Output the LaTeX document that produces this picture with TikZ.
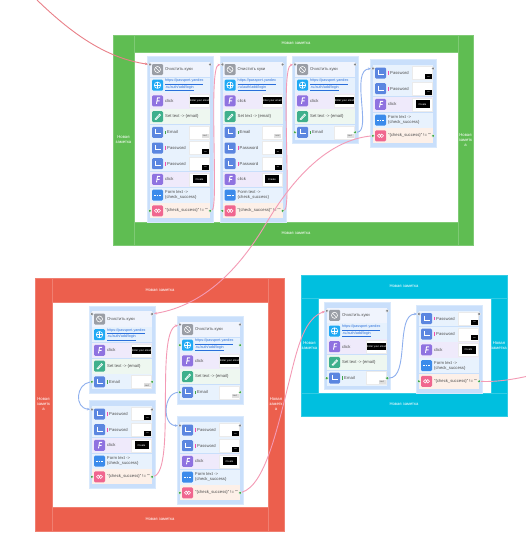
\documentclass[tikz,border=0pt]{standalone}
\usepackage{fontspec}
\setmainfont{Liberation Sans}
\usetikzlibrary{arrows.meta}
\definecolor{cgreen}{HTML}{5FBD52}
\definecolor{cred}{HTML}{EC5F4D}
\definecolor{ccyan}{HTML}{00BFDF}
\definecolor{colbg}{HTML}{C9DFFB}
\definecolor{bgclear}{HTML}{F0F4FD}
\definecolor{bglink}{HTML}{E6F1FD}
\definecolor{bgclick}{HTML}{EFEAFB}
\definecolor{bgset}{HTML}{EEF7F0}
\definecolor{bginput}{HTML}{E8F2FD}
\definecolor{bgcheck}{HTML}{FDF0E8}
\definecolor{icgray}{HTML}{9A9EA6}
\definecolor{icblue}{HTML}{1FA9F4}
\definecolor{icviolet}{HTML}{8F72E0}
\definecolor{icteal}{HTML}{3FB08C}
\definecolor{icinput}{HTML}{5B86E0}
\definecolor{icform}{HTML}{3B8BEB}
\definecolor{icpink}{HTML}{F0668F}
\definecolor{linkblue}{HTML}{2A6FDB}
\definecolor{portgray}{HTML}{7F848B}
\definecolor{portgreen}{HTML}{3FA548}
\definecolor{linkpink}{HTML}{F49AB5}
\definecolor{linkred}{HTML}{E98088}
\definecolor{linkbl}{HTML}{8FB0EE}
\tikzset{
  x=1pt,y=-1pt,
  notebox/.style={inner sep=0pt,text=white,font=\fontsize{4.2}{5}\selectfont,align=center},
  colbox/.style={fill=colbg,draw=colbg!70!white,line width=.4pt},
  rowbox/.style={minimum width=60pt,minimum height=15.2pt,inner sep=0pt,draw=none},
  iconbox/.style={minimum width=11pt,minimum height=11pt,inner sep=0pt,rounded corners=1.2pt,draw=none},
  rowtext/.style={inner sep=0pt,anchor=west,align=left,font=\fontsize{4.2}{5}\selectfont,text=black!70},
  linktext/.style={inner sep=0pt,anchor=west,align=left,font=\fontsize{3.7}{4.8}\selectfont,text=linkblue},
  thumb/.style={minimum width=20pt,minimum height=13pt,inner sep=0pt,fill=white,draw=black!8,line width=.3pt},
  port/.style={circle,minimum size=3.4pt,inner sep=0pt,draw=white,line width=.3pt},
  glyph/.style={draw=white,line width=.6pt},
  pinkline/.style={draw=linkpink,line width=.9pt,-{Stealth[length=3pt,width=2.6pt]}},
  blueline/.style={draw=linkbl,line width=.9pt,-{Stealth[length=3pt,width=2.6pt]}},
}
% note: name x1 y1 x2 y2 fill text
\newcommand\notepanel[7]{%
  \pgfmathsetmacro\nw{#4-#2}\pgfmathsetmacro\nh{#5-#3}%
  \pgfmathsetmacro\ncx{(#2+#4)/2}\pgfmathsetmacro\ncy{(#3+#5)/2}%
  \node[notebox,fill=#6,draw=#6!80!white,line width=.3pt,minimum width=\nw pt,minimum height=\nh pt] (#1) at (\ncx,\ncy) {#7};}
\newcommand\colpanel[4]{\pgfmathsetmacro\cw{#2+66.5}\draw[colbox] (#2,#3) rectangle (\cw,#4);}
\newcommand\base[5]{% name x y bg icon
  \node[rowbox,fill=#4] (#1) at (#2+30,#3) {};
  \node[iconbox,fill=#5] (#1i) at (#2+7.5,#3) {};}
\newcommand\rClear[3]{\base{#1}{#2}{#3}{bgclear}{icgray}
  \begin{scope}[shift={(#2+7.5,#3)}]\draw[glyph] (0,0) circle (3pt);\draw[glyph] (-2,-2) -- (2,2);\end{scope}
  \node[rowtext] (#1t) at (#2+15,#3) {Очистить куки};}
\newcommand\rLink[3]{\base{#1}{#2}{#3}{bglink}{icblue}
  \begin{scope}[shift={(#2+7.5,#3)}]\draw[glyph] (0,0) circle (3.2pt);\draw[glyph] (-3.2,0) -- (3.2,0);\draw[glyph] (0,-3.2) -- (0,3.2);\end{scope}
  \node[linktext] (#1t) at (#2+15,#3) {\underline{https://passport.yandex}\\\underline{.ru/auth/add/login}};}
\newcommand\rClickA[3]{\base{#1}{#2}{#3}{bgclick}{icviolet}
  \begin{scope}[shift={(#2+7.5,#3)}]\draw[glyph,line width=.9pt] (-1,3) -- (0,-3) -- (2.5,-3) (-.5,0) -- (2,0);\end{scope}
  \node[rowtext] (#1t) at (#2+15,#3) {click};
  \node[thumb] (#1m) at (#2+49.5,#3) {};
  \node[fill=black,minimum width=19pt,minimum height=7pt,inner sep=0pt,text=white,font=\fontsize{2.6}{3}\selectfont] (#1b) at (#2+49.5,#3) {Enter your email};}
\newcommand\rClickB[3]{\base{#1}{#2}{#3}{bgclick}{icviolet}
  \begin{scope}[shift={(#2+7.5,#3)}]\draw[glyph,line width=.9pt] (-1,3) -- (0,-3) -- (2.5,-3) (-.5,0) -- (2,0);\end{scope}
  \node[rowtext] (#1t) at (#2+15,#3) {click};
  \node[thumb] (#1m) at (#2+49.5,#3) {};
  \node[fill=black,minimum width=14pt,minimum height=8pt,inner sep=0pt,text=white,font=\fontsize{2.6}{3}\selectfont] (#1b) at (#2+49.5,#3) {Create};}
\newcommand\rSet[3]{\base{#1}{#2}{#3}{bgset}{icteal}
  \begin{scope}[shift={(#2+7.5,#3)}]\draw[glyph] (-2.5,2.5) -- (2,-2.5) -- (3,-1.5) -- (-1.5,3) -- cycle;\end{scope}
  \node[rowtext] (#1t) at (#2+15,#3) {Set text -> \{email\}};}
\newcommand\inglyph[2]{\begin{scope}[shift={(#1+7.5,#2)}]\draw[glyph,line width=.8pt] (-2,-3) -- (-2,1.5) -- (3,1.5);\end{scope}}
\newcommand\rEmail[3]{\base{#1}{#2}{#3}{bginput}{icinput}\inglyph{#2}{#3}
  \fill[portgreen] (#2+15,#3-1.8) rectangle (#2+15.7,#3+1.8);
  \node[rowtext] (#1t) at (#2+17,#3) {Email};
  \node[thumb] (#1m) at (#2+49.5,#3) {};
  \node[fill=black!12,minimum width=7pt,minimum height=4pt,inner sep=0pt,text=black!70,font=\fontsize{2.2}{2.5}\selectfont] (#1b) at (#2+55,#3+3.5) {next};}
\newcommand\rPass[3]{\base{#1}{#2}{#3}{bginput}{icinput}\inglyph{#2}{#3}
  \fill[magenta!70] (#2+15,#3-1.8) rectangle (#2+15.7,#3+1.8);
  \node[rowtext] (#1t) at (#2+17,#3) {Password};
  \node[thumb] (#1m) at (#2+49.5,#3) {};
  \node[fill=black,minimum width=7pt,minimum height=5pt,inner sep=0pt,text=white,font=\fontsize{2.2}{2.5}\selectfont] (#1b) at (#2+55.5,#3+3.5) {•••};}
\newcommand\rForm[3]{\base{#1}{#2}{#3}{bginput}{icform}
  \begin{scope}[shift={(#2+7.5,#3)}]\draw[glyph] (-3.5,0) -- (-1.5,0) (-.8,0) -- (.8,0) (1.5,0) -- (3.5,0);\end{scope}
  \node[rowtext] (#1t) at (#2+15,#3) {Form text ->\\\{check\_success\}};}
\newcommand\rCheck[3]{\base{#1}{#2}{#3}{bgcheck}{icpink}
  \begin{scope}[shift={(#2+7.5,#3)}]\draw[glyph] (-1.3,0) circle (1.7pt);\draw[glyph] (1.3,0) circle (1.7pt);\end{scope}
  \node[rowtext] (#1t) at (#2+15,#3) {"\{check\_success\}" != ""};}
\newcommand\ports[3]{% row, raise, colour
  \node[port,fill=#3] (#1L) at ([yshift=#2pt]#1.west) {};
  \node[port,fill=#3] (#1R) at ([yshift=#2pt]#1.east) {};}
\begin{document}
\begin{tikzpicture}
\useasboundingbox (0,0) rectangle (526,546);
\fill[white] (0,0) rectangle (526,546);
% ---------- green frame
\notepanel{gL}{113}{35}{134}{245}{cgreen}{Новая\\заметка}
\notepanel{gR}{458}{35}{473}{245}{cgreen}{Новая\\заметк\\а}
\notepanel{gT}{134}{35}{458}{52}{cgreen}{Новая заметка}
\notepanel{gB}{134}{222}{458}{245}{cgreen}{Новая заметка}
% ---------- red frame
\notepanel{rL}{35}{278}{52}{531}{cred}{Новая\\заметк\\а}
\notepanel{rR}{268}{278}{284}{531}{cred}{Новая\\заметк\\а}
\notepanel{rT}{52}{278}{268}{302}{cred}{Новая заметка}
\notepanel{rB}{52}{507}{268}{531}{cred}{Новая заметка}
% ---------- cyan frame
\notepanel{cL}{301}{298}{318}{393}{ccyan}{Новая\\заметка}
\notepanel{cR}{491}{298}{507}{393}{ccyan}{Новая\\заметка}
\notepanel{cT}{301}{275}{507}{298}{ccyan}{Новая заметка}
\notepanel{cB}{301}{393}{507}{416}{ccyan}{Новая заметка}
% ---------- column 1
\colpanel{a}{147}{56}{222}
\rClear{aa}{150}{69.5}\rLink{ab}{150}{85.2}\rClickA{ac}{150}{100.9}\rSet{ad}{150}{116.6}\rEmail{ae}{150}{132.3}
\rPass{af}{150}{148}\rPass{ag}{150}{163.7}\rClickB{ah}{150}{179.4}\rForm{ai}{150}{195.1}\rCheck{aj}{150}{210.8}
% ---------- column 2
\colpanel{b}{220}{56}{222}
\rClear{ba}{222.5}{69.5}\rLink{bb}{222.5}{85.2}\rClickA{bc}{222.5}{100.9}\rSet{bd}{222.5}{116.6}\rEmail{be}{222.5}{132.3}
\rPass{bf}{222.5}{148}\rPass{bg}{222.5}{163.7}\rClickB{bh}{222.5}{179.4}\rForm{bi}{222.5}{195.1}\rCheck{bj}{222.5}{210.8}
% ---------- column 3
\colpanel{d}{292}{56}{143}
\rClear{da}{295}{69.5}\rLink{db}{295}{85.2}\rClickA{dc}{295}{100.9}\rSet{dd}{295}{116.6}\rEmail{de}{295}{132.3}
% ---------- column 4
\colpanel{e}{370}{59}{147}
\rPass{ea}{373}{73}\rPass{eb}{373}{88.7}\rClickB{ec}{373}{104.4}\rForm{ed}{373}{120.1}\rCheck{ee}{373}{135.8}
% ---------- red A
\colpanel{f}{89}{306}{393}
\rClear{fa}{92}{319}\rLink{fb}{92}{334.7}\rClickA{fc}{92}{350.4}\rSet{fd}{92}{366.1}\rEmail{fe}{92}{381.8}
% ---------- red B
\colpanel{g}{89}{400}{488}
\rPass{ga}{92}{414}\rPass{gb}{92}{429.7}\rClickB{gc}{92}{445.4}\rForm{gd}{92}{461.1}\rCheck{ge}{92}{476.8}
% ---------- red C
\colpanel{h}{177}{316}{404}
\rClear{ha}{180}{329.5}\rLink{hb}{180}{345.2}\rClickA{hc}{180}{360.9}\rSet{hd}{180}{376.6}\rEmail{he}{180}{392.3}
% ---------- red D
\colpanel{j}{177}{416}{504}
\rPass{ja}{180}{430}\rPass{jb}{180}{445.7}\rClickB{jc}{180}{461.4}\rForm{jd}{180}{477.1}\rCheck{je}{180}{492.8}
% ---------- cyan E
\colpanel{k}{324}{302}{389}
\rClear{ka}{327}{315.3}\rLink{kb}{327}{331}\rClickA{kc}{327}{346.7}\rSet{kd}{327}{362.4}\rEmail{ke}{327}{378.1}
% ---------- cyan F
\colpanel{m}{416}{305}{393}
\rPass{ma}{419}{318.5}\rPass{mb}{419}{334.2}\rClickB{mc}{419}{349.9}\rForm{md}{419}{365.6}\rCheck{me}{419}{381.3}
% ---------- ports
\ports{aa}{5}{portgray}\ports{aj}{0}{portgreen}
\ports{ba}{5}{portgray}\ports{bj}{0}{portgreen}
\ports{da}{5}{portgray}\ports{de}{0}{portgreen}
\ports{ea}{4.5}{portgray}\ports{ee}{0}{portgreen}
\ports{fa}{5}{portgray}\ports{fe}{0}{portgreen}
\ports{ga}{4.5}{portgray}\ports{ge}{0}{portgreen}
\ports{ha}{5}{portgray}\ports{hb}{0}{portgreen}\ports{he}{0}{portgreen}
\ports{ja}{4.5}{portgray}\ports{je}{0}{portgreen}
\ports{ka}{4.5}{portgray}\ports{ke}{0}{portgreen}
\ports{ma}{4.5}{portgray}\ports{me}{0}{portgreen}
% ---------- free and waypoint coordinates
\coordinate (startfree) at (37,0);
\coordinate (endfree) at (526,376.5);
\coordinate (way1) at (267,222);
\coordinate (way2) at (290,378);
% ---------- connectors
\draw[pinkline,draw=linkred] (startfree) .. controls (70,32) and (105,58) .. (aaL);
\draw[pinkline] (ajR) .. controls (219,208) and (208,66) .. (baL);
\draw[pinkline] (bjR) .. controls (292,208) and (280,66) .. (daL);
\draw[blueline] (deR) .. controls (372,132) and (350,70) .. (eaL);
\draw[pinkline] (eeL) .. controls (330,140) and (295,175) .. (way1) .. controls (240,268) and (205,305) .. (faR);
\draw[pinkline] (geR) .. controls (176,470) and (155,332) .. (haL);
\draw[blueline] (feL) .. controls (76,384) and (74,408) .. (gaL);
\draw[blueline] (heL) .. controls (163,393) and (162,426) .. (jaL);
\draw[pinkline] (jeR) .. controls (265,485) and (277,430) .. (way2) .. controls (298,345) and (305,318) .. (kaL);
\draw[blueline] (keR) .. controls (410,378) and (395,314) .. (maL);
\draw[pinkline,-] (meR) .. controls (495,382) and (510,380) .. (endfree);
\end{tikzpicture}
\end{document}
